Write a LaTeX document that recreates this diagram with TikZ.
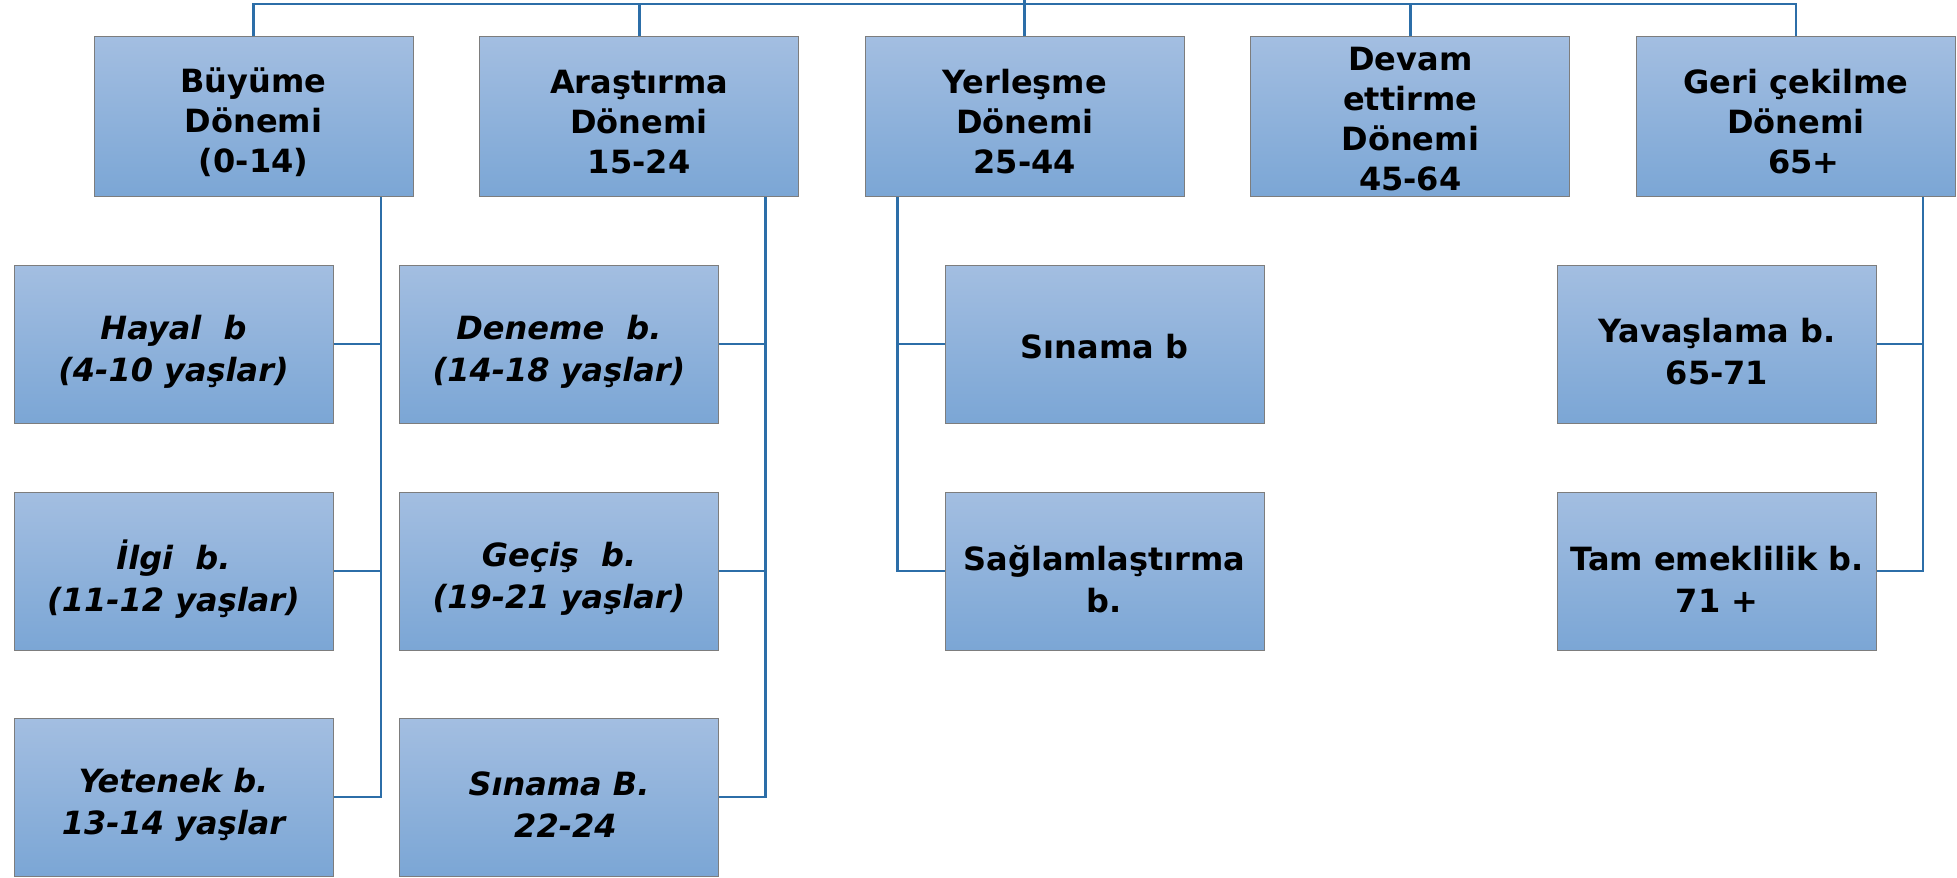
\documentclass[tikz,border=0pt]{standalone}
\usepackage{fontspec}
\setmainfont{DejaVu Sans}
\usetikzlibrary{shadings}
\definecolor{boxtop}{RGB}{163,190,225}
\definecolor{boxbot}{RGB}{123,166,213}
\definecolor{boxedge}{RGB}{125,125,125}
\definecolor{conncol}{RGB}{44,110,168}
\tikzset{
  boxbase/.style={draw=boxedge, line width=0.5pt, top color=boxtop, bottom color=boxbot,
    minimum width=159.5pt, inner sep=0pt},
  stagebox/.style={boxbase, minimum height=80pt},
  subbox/.style={boxbase, minimum height=79pt},
  stagetext/.style={align=center, inner sep=0pt, font=\bfseries\fontsize{16}{20}\selectfont},
  subtext/.style={align=center, inner sep=0pt, font=\bfseries\fontsize{16}{21}\selectfont},
  subitext/.style={subtext, font=\bfseries\itshape\fontsize{16}{21}\selectfont},
  conn/.style={draw=conncol, line width=1.4pt}
}
\begin{document}
\begin{tikzpicture}[x=0.5pt,y=-0.5pt]
\useasboundingbox (0,0) rectangle (1957,877);
% top row
\node[stagebox, label={[stagetext,yshift=-2.5pt]center:{Büyüme\\Dönemi\\(0-14)}}] (b1) at (253.5,117) {};
\node[stagebox, label={[stagetext,yshift=-2.5pt]center:{Araştırma\\Dönemi\\15-24}}] (b2) at (639.1,117) {};
\node[stagebox, label={[stagetext,yshift=-2.5pt]center:{Yerleşme\\Dönemi\\25-44}}] (b3) at (1024.7,117) {};
\node[stagebox, label={[stagetext,yshift=-1pt]center:{Devam\\ettirme\\Dönemi\\45-64}}] (b4) at (1410.3,117) {};
\node[stagebox, label={[stagetext,yshift=-2.5pt]center:{Geri çekilme\\Dönemi\\\hspace*{0.5em}65+}}] (b5) at (1795.9,117) {};
% children
\node[subbox, label={[subitext,yshift=-4pt]center:{Hayal\ \ b\\(4-10 yaşlar)}}] (c11) at (173.5,344) {};
\node[subbox, label={[subitext,yshift=-4pt]center:{İlgi\ \ b.\\(11-12 yaşlar)}}] (c12) at (173.5,571) {};
\node[subbox, label={[subitext,yshift=-4pt]center:{Yetenek b.\\13-14 yaşlar}}] (c13) at (173.5,797) {};
\node[subbox, label={[subitext,yshift=-4pt]center:{Deneme\ \ b.\\(14-18 yaşlar)}}] (c21) at (559,344) {};
\node[subbox, label={[subitext,yshift=-4pt]center:{Geçiş\ \ b.\\(19-21 yaşlar)}}] (c22) at (559,571) {};
\node[subbox, label={[subitext,yshift=-4pt]center:{Sınama B.\\\hspace*{0.4em}22-24}}] (c23) at (559,797) {};
\node[subbox, label={[subtext,yshift=-1.2pt]center:{Sınama b}}] (c31) at (1104.5,344) {};
\node[subbox, label={[subtext,yshift=-4pt]center:{Sağlamlaştırma\\b.}}] (c32) at (1104.5,571) {};
\node[subbox, label={[subtext,yshift=-4pt]center:{Yavaşlama b.\\65-71}}] (c51) at (1717,344) {};
\node[subbox, label={[subtext,yshift=-4pt]center:{Tam emeklilik b.\\71 +}}] (c52) at (1717,571) {};
% bus
\coordinate (bus) at (1024.7,4);
\coordinate (topend) at (1024.7,0);
\draw[conn] (b1.north) -- (b1.north |- bus) -- (b5.north |- bus) -- (b5.north);
\draw[conn] (b2.north) -- (b2.north |- bus);
\draw[conn] (b3.north) -- (topend);
\draw[conn] (b4.north) -- (b4.north |- bus);
% trunks
\coordinate (t1) at ([xshift=63.75pt]b1.south);
\coordinate (t2) at ([xshift=63pt]b2.south);
\coordinate (t3) at ([xshift=-63.75pt]b3.south);
\coordinate (t5) at ([xshift=63.5pt]b5.south);
\draw[conn] (t1) |- (c13.east);
\draw[conn] (t1 |- c11.east) -- (c11.east);
\draw[conn] (t1 |- c12.east) -- (c12.east);
\draw[conn] (t2) |- (c23.east);
\draw[conn] (t2 |- c21.east) -- (c21.east);
\draw[conn] (t2 |- c22.east) -- (c22.east);
\draw[conn] (t3) |- (c32.west);
\draw[conn] (t3 |- c31.west) -- (c31.west);
\draw[conn] (t5) |- (c52.east);
\draw[conn] (t5 |- c51.east) -- (c51.east);
\end{tikzpicture}
\end{document}
